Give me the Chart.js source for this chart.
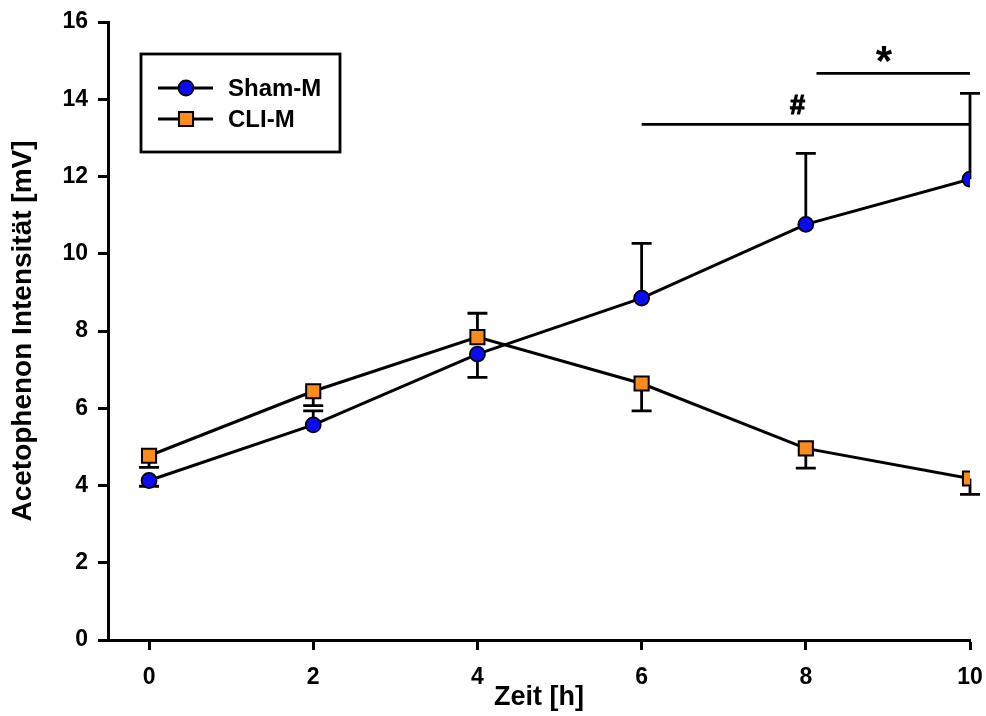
<!DOCTYPE html>
<html>
<head>
<meta charset="utf-8">
<script src="https://cdn.jsdelivr.net/npm/chart.js@4.4.1/dist/chart.umd.min.js"></script>
<style>
  html, body { margin: 0; padding: 0; background: #fff; }
  #wrap { width: 986px; height: 716px; }
</style>
</head>
<body>
<div id="wrap"><canvas id="chart" width="986" height="716"></canvas></div>
<script>
// time points (h) and tick labels
const hours = [0, 2, 4, 6, 8, 10];
const xTicks = [0, 2, 4, 6, 8, 10];
const yTicks = [0, 2, 4, 6, 8, 10, 12, 14, 16];

// Sham-M means and one-sided error bar ends (null = no bar on that side)
const shamMean = [4.13, 5.57, 7.40, 8.85, 10.76, 11.93];
const shamErrHigh = [null, 5.93, null, 10.27, 12.60, 14.15];
const shamErrLow = [3.98, null, 6.80, null, null, null];

// CLI-M means and error bar ends
const cliMean = [4.77, 6.44, 7.84, 6.64, 4.96, 4.18];
const cliErrHigh = [null, null, 8.46, null, null, null];
const cliErrLow = [4.47, 6.07, null, 5.93, 4.45, 3.77];

// significance bars
const sigStart = [6, 8.13];
const sigEnd = [10, 10];
const sigLevel = [13.35, 14.67];
const sigText = ['#', '*'];
const sigTextX = [7.9, 8.95];

const FONT = '"Liberation Sans", Arial, sans-serif';

function pts(ys) {
    return hours.map((h, i) => ({ x: h, y: ys[i] }));
}

// error bars go under the markers
const errorBars = {
    id: 'errorBars',
    beforeDatasetsDraw(chart) {
        const { ctx, scales: { x, y } } = chart;
        ctx.save();
        ctx.strokeStyle = '#000';
        ctx.lineWidth = 2.8;
        chart.data.datasets.forEach(ds => {
            ds.data.forEach((p, i) => {
                [ds.errHigh[i], ds.errLow[i]].forEach(end => {
                    if (end == null) return;
                    const px = x.getPixelForValue(p.x);
                    const py0 = y.getPixelForValue(p.y);
                    const py1 = y.getPixelForValue(end);
                    ctx.beginPath();
                    ctx.moveTo(px, py0);
                    ctx.lineTo(px, py1);
                    ctx.moveTo(px - 10, py1);
                    ctx.lineTo(px + 10, py1);
                    ctx.stroke();
                });
            });
        });
        ctx.restore();
    }
};

const sigBars = {
    id: 'sigBars',
    afterDraw(chart) {
        const { ctx, scales: { x, y } } = chart;
        ctx.save();
        ctx.strokeStyle = '#000';
        ctx.fillStyle = '#000';
        ctx.textAlign = 'center';
        ctx.textBaseline = 'alphabetic';
        sigText.forEach((txt, i) => {
            const py = y.getPixelForValue(sigLevel[i]);
            ctx.lineWidth = 2.8;
            ctx.beginPath();
            ctx.moveTo(x.getPixelForValue(sigStart[i]), py);
            ctx.lineTo(x.getPixelForValue(sigEnd[i]), py);
            ctx.stroke();
            const tx = x.getPixelForValue(sigTextX[i]);
            if (txt === '*') {
                ctx.font = 'bold 42px ' + FONT;
                ctx.fillText(txt, tx, py + 2);
            } else {
                ctx.font = 'bold 27px ' + FONT;
                ctx.lineWidth = 1.2;
                ctx.fillText(txt, tx, py - 10);
                ctx.strokeText(txt, tx, py - 10);
            }
        });
        ctx.restore();
    }
};

// boxed legend in the upper left of the plot
const boxLegend = {
    id: 'boxLegend',
    afterDraw(chart) {
        const ctx = chart.ctx;
        ctx.save();
        ctx.strokeStyle = '#000';
        ctx.lineWidth = 2.8;
        ctx.strokeRect(141, 54, 199, 98);
        ctx.font = 'bold 24px ' + FONT;
        ctx.fillStyle = '#000';
        ctx.textBaseline = 'middle';
        chart.data.datasets.forEach((ds, i) => {
            const ly = 88 + i * 31;
            ctx.beginPath();
            ctx.lineWidth = 2.8;
            ctx.moveTo(158, ly);
            ctx.lineTo(213, ly);
            ctx.stroke();
            ctx.fillStyle = ds.pointBackgroundColor;
            ctx.lineWidth = ds.pointBorderWidth;
            Chart.helpers.drawPoint(ctx, {
                pointStyle: ds.pointStyle,
                radius: ds.pointRadius,
                borderWidth: ds.pointBorderWidth,
                rotation: 0
            }, 186, ly);
            ctx.fillStyle = '#000';
            ctx.fillText(ds.label, 228, ly + 1);
        });
        ctx.restore();
    }
};

new Chart(document.getElementById('chart'), {
    type: 'line',
    data: {
        datasets: [{
            label: 'Sham-M',
            data: pts(shamMean),
            errHigh: shamErrHigh,
            errLow: shamErrLow,
            borderColor: '#000',
            borderWidth: 3,
            pointStyle: 'circle',
            pointRadius: 7.5,
            pointBorderWidth: 1.8,
            pointBorderColor: '#000',
            pointBackgroundColor: '#0a0af5',
            order: 1,
        }, {
            label: 'CLI-M',
            data: pts(cliMean),
            errHigh: cliErrHigh,
            errLow: cliErrLow,
            borderColor: '#000',
            borderWidth: 3,
            pointStyle: 'rect',
            pointRadius: 10,
            pointBorderWidth: 2,
            pointBorderColor: '#000',
            pointBackgroundColor: '#f98c1c',
            order: 0,
        }],
    },
    options: {
        responsive: false,
        animation: false,
        layout: { padding: { top: 22, right: 16, left: 0, bottom: 0 } },
        plugins: {
            legend: { display: false },
            tooltip: { enabled: false },
        },
        scales: {
            x: {
                type: 'linear',
                min: -0.5,
                max: 10,
                afterBuildTicks: s => { s.ticks = xTicks.map(v => ({ value: v })); },
                afterFit: s => { s.height = 76; s.paddingLeft = 0; s.paddingRight = 0; },
                grid: { drawOnChartArea: false, tickLength: 10, tickWidth: 3, tickColor: '#000' },
                border: { color: '#000', width: 3 },
                ticks: { color: '#000', padding: 14, font: { family: FONT, size: 23, weight: 'bold' } },
                title: {
                    display: true,
                    text: 'Zeit [h]',
                    color: '#000',
                    padding: { top: 0, bottom: 2 },
                    font: { family: FONT, size: 27, weight: 'bold' },
                },
            },
            y: {
                min: 0,
                max: 16,
                afterBuildTicks: s => { s.ticks = yTicks.map(v => ({ value: v })); },
                afterFit: s => { s.width = 108; s.paddingTop = 0; s.paddingBottom = 0; },
                grid: { drawOnChartArea: false, tickLength: 10, tickWidth: 3, tickColor: '#000' },
                border: { color: '#000', width: 3 },
                ticks: { color: '#000', padding: 10, font: { family: FONT, size: 23, weight: 'bold' } },
                title: {
                    display: true,
                    text: 'Acetophenon Intensität [mV]',
                    color: '#000',
                    padding: { top: 6, bottom: 0 },
                    font: { family: FONT, size: 28, weight: 'bold' },
                },
            },
        },
    },
    plugins: [errorBars, sigBars, boxLegend],
});
</script>
</body>
</html>
